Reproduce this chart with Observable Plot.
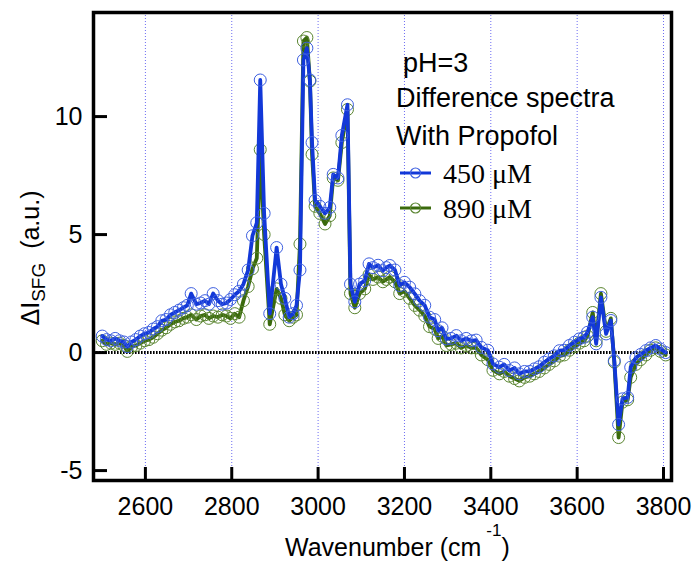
<!DOCTYPE html>
<html>
<head>
<meta charset="utf-8">
<script src="https://cdn.jsdelivr.net/npm/d3@7"></script>
<script src="https://cdn.jsdelivr.net/npm/@observablehq/plot@0.6"></script>
<style>
  html, body { margin: 0; padding: 0; background: #fff; }
  svg { display: block; }
</style>
</head>
<body>
<div id="chart"></div>
<script>
// ---- Data ----
const wavenumber = [
  2500, 2510, 2520, 2530, 2540, 2550, 2558, 2568, 2578, 2588,
  2598, 2608, 2618, 2628, 2638, 2648, 2658, 2668, 2678, 2688,
  2697, 2706, 2718, 2728, 2738, 2747, 2757, 2768, 2778, 2788,
  2797, 2807, 2817, 2827, 2838, 2848, 2858, 2866, 2875, 2888,
  2904, 2914, 2923, 2933, 2942, 2950, 2958, 2966, 2974, 2981,
  2986, 2993, 3004, 3016, 3027, 3035, 3046, 3055, 3068, 3075,
  3085, 3096, 3108, 3118, 3127, 3139, 3150, 3158, 3166, 3178,
  3189, 3200, 3212, 3224, 3235, 3247, 3258, 3270, 3278, 3287,
  3297, 3308, 3320, 3331, 3343, 3355, 3366, 3378, 3393, 3405,
  3420, 3431, 3443, 3455, 3466, 3478, 3490, 3501, 3512, 3524,
  3535, 3547, 3559, 3570, 3582, 3594, 3605, 3616, 3624, 3636,
  3644, 3655, 3667, 3678, 3686, 3696, 3705, 3717, 3724, 3736,
  3747, 3759, 3770, 3782, 3793, 3805
];
const propofol450 = [
  0.70, 0.55, 0.50, 0.60, 0.50, 0.45, 0.25, 0.45, 0.55, 0.70,
  0.80, 0.85, 1.00, 1.10, 1.35, 1.40, 1.60, 1.70, 1.80, 1.90,
  2.00, 2.50, 2.05, 2.10, 2.20, 2.05, 2.50, 2.20, 2.05, 2.10,
  2.25, 2.45, 2.60, 2.90, 3.50, 4.95, 5.50, 11.55, 5.90, 1.65,
  4.45, 2.90, 2.30, 1.50, 1.65, 2.00, 3.50, 12.40, 12.90, 11.55,
  8.90, 6.45, 6.20, 5.90, 6.15, 7.55, 7.40, 9.20, 10.50, 2.90,
  2.15, 2.90, 3.05, 3.76, 3.60, 3.70, 3.47, 3.60, 3.69, 3.50,
  2.84, 2.98, 2.77, 2.49, 2.20, 2.00, 1.50, 1.40, 0.93, 1.05,
  0.58, 0.60, 0.72, 0.50, 0.60, 0.50, 0.53, 0.22, 0.10, -0.48,
  -0.62, -0.50, -0.76, -0.65, -0.90, -0.80, -0.80, -0.69, -0.60, -0.41,
  -0.27, -0.14, 0.08, 0.10, 0.30, 0.44, 0.58, 0.65, 0.86, 1.50,
  0.37, 2.34, 0.79, 1.36, -0.34, -3.05, -1.96, -1.90, -0.62, -0.22,
  -0.08, 0.08, 0.20, 0.30, 0.15, 0.00
];
const propofol890 = [
  0.50, 0.35, 0.40, 0.35, 0.40, 0.30, 0.05, 0.25, 0.30, 0.40,
  0.50, 0.55, 0.65, 0.80, 0.95, 1.05, 1.20, 1.30, 1.35, 1.45,
  1.50, 1.60, 1.40, 1.55, 1.60, 1.45, 1.55, 1.50, 1.60, 1.55,
  1.45, 1.65, 1.50, 2.20, 2.80, 3.55, 4.00, 8.60, 5.00, 1.20,
  2.70, 2.30, 1.60, 1.35, 1.50, 1.60, 4.60, 13.20, 13.35, 11.50,
  8.40, 6.20, 5.90, 5.45, 5.80, 7.40, 7.30, 8.90, 10.30, 2.50,
  1.90, 2.50, 2.70, 3.30, 3.10, 3.20, 3.00, 3.10, 3.20, 3.00,
  2.50, 2.60, 2.30, 2.00, 1.80, 1.55, 1.10, 1.00, 0.60, 0.70,
  0.30, 0.35, 0.40, 0.20, 0.30, 0.20, 0.20, -0.10, -0.30, -0.75,
  -0.90, -0.80, -1.00, -1.10, -1.20, -1.05, -1.00, -0.90, -0.80, -0.65,
  -0.50, -0.35, -0.15, -0.10, 0.10, 0.25, 0.40, 0.50, 0.70, 1.70,
  0.50, 2.50, 0.90, 1.45, -0.40, -3.60, -2.10, -2.00, -1.05, -0.50,
  -0.30, -0.10, 0.10, 0.20, 0.05, -0.10
];
const xTicks = [2600, 2800, 3000, 3200, 3400, 3600, 3800];
const yTicks = [-5, 0, 5, 10];
const seriesLabels = ["450 \u03bcM", "890 \u03bcM"];
const legendLines = ["pH=3", "Difference spectra", "With Propofol"];

// ---- Build tables ----
const d450 = wavenumber.map((w, i) => ({ w, v: propofol450[i] }));
const d890 = wavenumber.map((w, i) => ({ w, v: propofol890[i] }));

const W = 695, H = 569;
const mL = 93, mR = 24, mT = 12, mB = 89;
const plotW = W - mL - mR, plotH = H - mT - mB;

const blueLine = "#1238d8", blueDot = "#3d5fe0";
const greenLine = "#3a6a0c", greenDot = "#5a8530";

const chart = Plot.plot({
  width: W,
  height: H,
  marginLeft: mL,
  marginRight: mR,
  marginTop: mT,
  marginBottom: mB,
  style: { fontFamily: "'Liberation Sans', Arial, sans-serif", fontSize: "25px", background: "#fff", color: "#000" },
  x: { domain: [2479.8, 3818.5], label: null },
  y: { domain: [-5.42, 14.41], label: null },
  marks: [
    Plot.ruleX(xTicks, { stroke: "#6d6df2", strokeWidth: 1, strokeDasharray: "1,2" }),
    Plot.ruleY([0], { stroke: "#000", strokeWidth: 3, strokeDasharray: "1.6,1.4" }),
    Plot.line(d890, { x: "w", y: "v", stroke: greenLine, strokeWidth: 3.8, strokeLinejoin: "round" }),
    Plot.dot(d890, { x: "w", y: "v", r: 6, stroke: greenDot, strokeWidth: 1, fill: "none" }),
    Plot.line(d450, { x: "w", y: "v", stroke: blueLine, strokeWidth: 3.8, strokeLinejoin: "round" }),
    Plot.dot(d450, { x: "w", y: "v", r: 6, stroke: blueDot, strokeWidth: 1, fill: "none" }),
    Plot.frame({ stroke: "#000", strokeWidth: 3.5 }),
    Plot.tickY(yTicks, { y: d => d, stroke: "#000", strokeWidth: 3, insetRight: plotW - 14 }),
    Plot.tickX(xTicks, { x: d => d, stroke: "#000", strokeWidth: 3, insetTop: plotH - 13 }),
    Plot.axisX({ ticks: xTicks, tickSize: 0, tickPadding: 17, fontSize: 25, tickFormat: d => String(d), label: null }),
    Plot.axisY({ ticks: yTicks, tickSize: 0, tickPadding: 11, fontSize: 25, tickFormat: d => String(d), label: null })
  ]
});

document.getElementById("chart").appendChild(chart);

// ---- Annotations: legend and axis titles ----
const svg = d3.select(chart);
const sans = "'Liberation Sans', Arial, sans-serif";
const serif = "'Liberation Serif', 'Times New Roman', serif";

const leg = svg.append("g").attr("text-anchor", "start");
const legY = [72, 107, 145];
const legX = [403, 396, 396];
legendLines.forEach((t, i) => {
  leg.append("text").attr("x", legX[i]).attr("y", legY[i]).attr("text-anchor", "start")
    .attr("font-family", sans).attr("font-size", 27).attr("fill", "#000").text(t);
});
const swatches = [
  { label: seriesLabels[0], line: blueLine, dot: blueDot, y: 173 },
  { label: seriesLabels[1], line: greenLine, dot: greenDot, y: 208 }
];
swatches.forEach(s => {
  leg.append("line").attr("x1", 400).attr("x2", 431).attr("y1", s.y).attr("y2", s.y)
    .attr("stroke", s.line).attr("stroke-width", 3);
  leg.append("circle").attr("cx", 415.5).attr("cy", s.y).attr("r", 5)
    .attr("fill", "none").attr("stroke", s.dot).attr("stroke-width", 1.2);
  leg.append("text").attr("x", 443).attr("y", s.y + 10).attr("text-anchor", "start")
    .attr("font-family", serif).attr("font-size", 28).attr("fill", "#000").text(s.label);
});

// Y axis title with subscript
const yt = svg.append("text")
  .attr("transform", "translate(39,258) rotate(-90)")
  .attr("text-anchor", "middle")
  .attr("font-family", sans).attr("font-size", 25).attr("fill", "#000");
yt.append("tspan").text("\u0394I");
yt.append("tspan").attr("font-size", 19).attr("dy", 6).text("SFG");
yt.append("tspan").attr("dy", -6).text("\u00a0 (a.u.)");

// X axis title with superscript
const xt = svg.append("text")
  .attr("x", 285).attr("y", 556).attr("text-anchor", "start")
  .attr("font-family", sans).attr("font-size", 25).attr("fill", "#000");
xt.append("tspan").text("Wavenumber (cm");
xt.append("tspan").attr("font-size", 17).attr("dx", 5).attr("dy", -20).text("-1");
xt.append("tspan").attr("dx", 0).attr("dy", 20).text(")");
</script>
</body>
</html>
